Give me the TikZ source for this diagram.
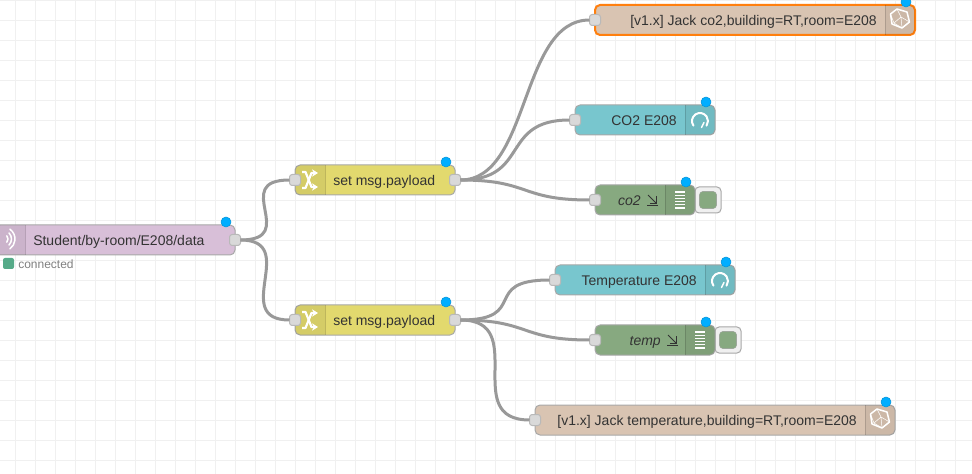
\documentclass[tikz,border=0pt]{standalone}
\usepackage{fontspec}
\usetikzlibrary{arrows.meta}
\setmainfont{Liberation Sans}
\definecolor{gridcol}{HTML}{F0F0F0}
\definecolor{wirecol}{HTML}{999999}
\definecolor{edgecol}{HTML}{A8A8A8}
\definecolor{portcol}{HTML}{D9D9D9}
\definecolor{mqttcol}{HTML}{D8BFD8}
\definecolor{changecol}{HTML}{E2D96E}
\definecolor{influxcol}{HTML}{D9C4B2}
\definecolor{gaugecol}{HTML}{78C6CE}
\definecolor{debugcol}{HTML}{87A980}
\definecolor{dotcol}{HTML}{00AEFF}
\definecolor{orangecol}{HTML}{FF7F0E}
\definecolor{statuscol}{HTML}{55AA88}
\definecolor{textcol}{HTML}{333333}
\def\px{0.75pt}
\tikzset{
	flownode/.style={draw=edgecol, line width=1*\px, rounded corners=3.75pt, minimum height=30*\px, outer sep=0pt, inner sep=0pt},
	picked/.style={draw=orangecol, line width=2*\px},
	port/.style={draw=edgecol!80!white, line width=1*\px, fill=portcol, rounded corners=2pt, minimum size=11*\px, inner sep=0pt, outer sep=0pt},
	deploydot/.style={circle, fill=dotcol, draw=dotcol!85!black, line width=0.4pt, minimum size=10*\px, inner sep=0pt},
	rightlabel/.style={anchor=east, text=textcol, inner sep=0pt, font=\fontsize{10.5pt}{12pt}\selectfont, text height=8.5pt, text depth=0.8pt},
	leftlabel/.style={rightlabel, anchor=west},
	debugbutton/.style={draw=edgecol, fill=gridcol, line width=1*\px, rounded corners=3pt, minimum size=26*\px, inner sep=0pt},
	debugswitch/.style={draw=edgecol!70!debugcol, fill=debugcol, rounded corners=2.5pt, minimum size=17*\px, inner sep=0pt},
	wire/.style={draw=wirecol, line width=3*\px},
	iconpanel/.style={fill=black, fill opacity=0.06},
	panelline/.style={draw=black, draw opacity=0.15, line width=1*\px},
	iconline/.style={draw=white, line width=1.5*\px, line cap=round, line join=round},
	thinicon/.style={draw=white, line width=0.5*\px},
	sinkarrow/.style={draw=textcol, line width=1*\px}
}
% shaded icon areas of a node
\newcommand{\rightpanel}[1]{
	\fill[iconpanel] ([xshift=-22.5pt]#1.north east) [rounded corners=3.75pt] -- (#1.north east) -- (#1.south east) [sharp corners] -- ([xshift=-22.5pt]#1.south east) -- cycle;
	\draw[panelline] ([xshift=-22.5pt]#1.north east) -- ([xshift=-22.5pt]#1.south east);
}
\newcommand{\leftpanel}[1]{
	\fill[iconpanel] ([xshift=22.5pt]#1.north west) [rounded corners=3.75pt] -- (#1.north west) -- (#1.south west) [sharp corners] -- ([xshift=22.5pt]#1.south west) -- cycle;
	\draw[panelline] ([xshift=22.5pt]#1.north west) -- ([xshift=22.5pt]#1.south west);
}
\newcommand{\gaugeicon}[2]{
	\draw[iconline, line width=2*\px] (#1-6.55,#2+4.6) arc[start angle=215, end angle=-35, radius=6pt];
	\draw[iconline] (#1+1.5,#2+6.5) -- (#1+4,#2+1.5);
}
\newcommand{\influxicon}[2]{
	\draw[iconline] (#1-3,#2-10) -- (#1+7,#2-7) -- (#1+9.5,#2+3) -- (#1+2,#2+9) -- (#1-8,#2+5) -- (#1-9.5,#2-5) -- cycle;
	\draw[thinicon] (#1-3,#2-10) -- (#1+1,#2-2) -- (#1+9.5,#2+3) (#1+1,#2-2) -- (#1-6,#2+4) -- (#1+2,#2+9) (#1+1,#2-2) -- (#1+2,#2+9) (#1-6,#2+4) -- (#1-9.5,#2-5);
}
\newcommand{\shuffleicon}[2]{
	\draw[iconline, line width=2.2*\px, line cap=butt, -{Stealth[length=4.5pt, width=5.5pt]}] (#1-8,#2-8) -- (#1-4.5,#2-8) -- (#1+1.5,#2+7) -- (#1+8,#2+7);
	\draw[iconline, line width=2.2*\px, line cap=butt, -{Stealth[length=4.5pt, width=5.5pt]}] (#1-8,#2+8) -- (#1-4.5,#2+8) -- (#1+1.5,#2-7) -- (#1+8,#2-7);
}
\newcommand{\debugicon}[2]{
	\foreach \i in {-8,-4.8,-1.6,1.6,4.8,8}
		\draw[draw=white, line width=1.2*\px] (#1-5,#2+\i) -- (#1+5,#2+\i);
}
\newcommand{\sinkicon}[2]{
	\draw[sinkarrow] (#1,#2) -- (#1+8,#2+8);
	\draw[sinkarrow] (#1+8.5,#2+1) -- (#1+8.5,#2+8.5) -- (#1+2,#2+8.5);
	\draw[sinkarrow] (#1-1,#2+10.5) -- (#1+10,#2+10.5);
}

\begin{document}
\begin{tikzpicture}[x=0.75pt, y=-0.75pt]
	\useasboundingbox (0,0) rectangle (972,474);
	\clip (0,0) rectangle (972,474);
	\fill[white] (0,0) rectangle (972,474);

	% grid
	\foreach \gx in {15.5,35.5,...,975}
		\draw[gridcol, line width=1.2*\px] (\gx,0) -- (\gx,474);
	\foreach \gy in {0.5,20.5,...,480}
		\draw[gridcol, line width=1.2*\px] (0,\gy) -- (972,\gy);

	% debug buttons
	\node[debugbutton] (buttonco) at (708,200) {};
	\node[debugbutton] (buttontemp) at (728,340) {};
	\node[debugswitch] (switchco) at (708,200) {};
	\node[debugswitch] (switchtemp) at (728,340) {};

	% nodes
	\node[flownode, fill=mqttcol, minimum width=240*\px] (mqtt) at (115,240) {};
	\node[flownode, fill=changecol, minimum width=160*\px] (changeco) at (375,180) {};
	\node[flownode, fill=changecol, minimum width=160*\px] (changetemp) at (375,320) {};
	\node[flownode, fill=influxcol, picked, minimum width=320*\px] (influxco) at (755,20) {};
	\node[flownode, fill=gaugecol, minimum width=140*\px] (gaugeco) at (645,120) {};
	\node[flownode, fill=debugcol, minimum width=100*\px] (debugco) at (645,200) {};
	\node[flownode, fill=gaugecol, minimum width=180*\px] (gaugetemp) at (645,280) {};
	\node[flownode, fill=debugcol, minimum width=120*\px] (debugtemp) at (655,340) {};
	\node[flownode, fill=influxcol, minimum width=360*\px] (influxtemp) at (715,420) {};

	% icon areas
	\leftpanel{mqtt}
	\leftpanel{changeco}
	\leftpanel{changetemp}
	\rightpanel{influxco}
	\rightpanel{gaugeco}
	\rightpanel{debugco}
	\rightpanel{gaugetemp}
	\rightpanel{debugtemp}
	\rightpanel{influxtemp}

	% icons
	\foreach \arcr/\arca in {5/40,8.5/45,12/55}
		\draw[iconline] (3,239) ++(\arca:\arcr*\px) arc[start angle=\arca, end angle=-\arca, radius=\arcr*\px];
	\shuffleicon{310}{180}
	\shuffleicon{310}{320}
	\influxicon{900}{19}
	\influxicon{880}{419}
	\gaugeicon{700}{121}
	\gaugeicon{720}{281}
	\debugicon{680}{200}
	\debugicon{700}{340}
	\sinkicon{648}{195}
	\sinkicon{668}{335}

	% labels
	\node[leftlabel] (mqttlabel) at (33,240) {Student/by-room/E208/data};
	\node[leftlabel] (changecolabel) at (333,180) {set msg.payload};
	\node[leftlabel] (changetemplabel) at (333,320) {set msg.payload};
	\node[rightlabel] (influxcolabel) at (877,20) {[v1.x] Jack co2,building=RT,room=E208};
	\node[rightlabel] (gaugecolabel) at (677,120) {CO2 E208};
	\node[rightlabel] (debugcolabel) at (641,200) {\itshape co2};
	\node[rightlabel] (gaugetemplabel) at (697,280) {Temperature E208};
	\node[rightlabel] (debugtemplabel) at (661,340) {\itshape temp};
	\node[rightlabel] (influxtemplabel) at (857,420) {[v1.x] Jack temperature,building=RT,room=E208};

	% status
	\node[fill=statuscol, rounded corners=1.5pt, minimum size=11*\px, inner sep=0pt] (statusdot) at (8.5,263.5) {};
	\node[anchor=west, inner sep=0pt, text=gray, font=\fontsize{9pt}{11pt}\selectfont] (statuslabel) at (18,264) {connected};

	% deploy dots
	\node[deploydot] (dotmqtt) at (226,222) {};
	\node[deploydot] (dotchangeco) at (446,162) {};
	\node[deploydot] (dotchangetemp) at (446,302) {};
	\node[deploydot] (dotinfluxco) at (906,2) {};
	\node[deploydot] (dotgaugeco) at (706,102) {};
	\node[deploydot] (dotdebugco) at (686,182) {};
	\node[deploydot] (dotgaugetemp) at (726,262) {};
	\node[deploydot] (dotdebugtemp) at (706,322) {};
	\node[deploydot] (dotinfluxtemp) at (886,402) {};

	% ports
	\node[port] (mqttout) at (235,240) {};
	\node[port] (changecoin) at (295,180) {};
	\node[port] (changecoout) at (455,180) {};
	\node[port] (changetempin) at (295,320) {};
	\node[port] (changetempout) at (455,320) {};
	\node[port] (influxcoin) at (595,20) {};
	\node[port] (gaugecoin) at (575,120) {};
	\node[port] (debugcoin) at (595,200) {};
	\node[port] (gaugetempin) at (555,280) {};
	\node[port] (debugtempin) at (595,340) {};
	\node[port] (influxtempin) at (535,420) {};

	% wires
	\draw[wire] (mqttout.east) .. controls +(60,0) and +(-60,0) .. (changecoin.west);
	\draw[wire] (mqttout.east) .. controls +(60,0) and +(-60,0) .. (changetempin.west);
	\draw[wire] (changecoout.east) .. controls +(70,0) and +(-70,0) .. (influxcoin.west);
	\draw[wire] (changecoout.east) .. controls +(70,0) and +(-70,0) .. (gaugecoin.west);
	\draw[wire] (changecoout.east) .. controls +(70,0) and +(-70,0) .. (debugcoin.west);
	\draw[wire] (changetempout.east) .. controls +(70,0) and +(-70,0) .. (gaugetempin.west);
	\draw[wire] (changetempout.east) .. controls +(70,0) and +(-70,0) .. (debugtempin.west);
	\draw[wire] (changetempout.east) .. controls +(70,0) and +(-70,0) .. (influxtempin.west);
\end{tikzpicture}
\end{document}
